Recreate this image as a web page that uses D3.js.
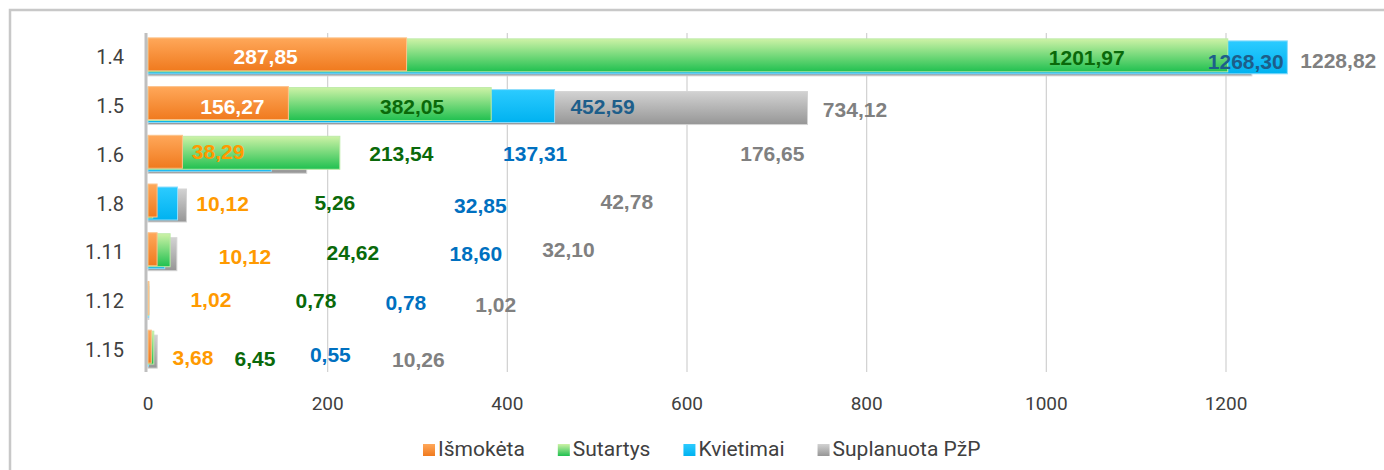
<!DOCTYPE html>
<html>
<head>
<meta charset="utf-8">
<script src="https://cdn.jsdelivr.net/npm/d3@7"></script>
<style>
  body { margin: 0; background: #fff; }
</style>
</head>
<body>
<div id="chart"></div>
<script>
// data
var categories = ['1.4', '1.5', '1.6', '1.8', '1.11', '1.12', '1.15'];
var seriesNames = ['Išmokėta', 'Sutartys', 'Kvietimai', 'Suplanuota PžP'];
var ismoketa = [287.85, 156.27, 38.29, 10.12, 10.12, 1.02, 3.68];
var sutartys = [1201.97, 382.05, 213.54, 5.26, 24.62, 0.78, 6.45];
var kvietimai = [1268.30, 452.59, 137.31, 32.85, 18.60, 0.78, 0.55];
var suplanuota = [1228.82, 734.12, 176.65, 42.78, 32.10, 1.02, 10.26];
var xTicks = [0, 200, 400, 600, 800, 1000, 1200];

// where the (hand placed) data labels sit, in axis units
var labelAtIsm = [131, 94, 78, 83, 108, 70, 50];
var labelAtSut = [1045, 294, 282, 208, 228, 187, 119];
var labelAtKv = [1222, 506, 431, 370, 365, 287, 203];
var labelAtSup = [1325, 787, 695, 533, 468, 387, 301];
var labelDyIsm = [-1, 1, -3, 0, 4, -1, 8];
var labelDySut = [0, 1, -1, -1, 0, 0, 9];
var labelDyKv = [4, 1, -1, 2, 1, 2, 5];
var labelDySup = [3, 4, -1, -2, -3, 4, 10];

var chart_width = 1384;
var chart_height = 470;

var series = [
  { name: seriesNames[0], values: ismoketa, at: labelAtIsm, dy: labelDyIsm, grad: 'g-orange', off: 0, label: '#FF9A00', stroke: '#FCC38C' },
  { name: seriesNames[1], values: sutartys, at: labelAtSut, dy: labelDySut, grad: 'g-green', off: 1, label: '#0A690A', stroke: '#BDEBA8' },
  { name: seriesNames[2], values: kvietimai, at: labelAtKv, dy: labelDyKv, grad: 'g-blue', off: 3, label: '#0070C0', stroke: '#8FDDFB' },
  { name: seriesNames[3], values: suplanuota, at: labelAtSup, dy: labelDySup, grad: 'g-gray', off: 5, label: '#808080', stroke: '#D4D4D4' }
];

var svg = d3.select('#chart')
  .append('svg')
  .attr('width', chart_width)
  .attr('height', chart_height);

// gradients
var defs = svg.append('defs');
var grads = [
  ['g-orange', '#FFA85A', '#F07A1E'],
  ['g-green', '#CDF2A6', '#20C050'],
  ['g-blue', '#2CCBFF', '#00B2F0'],
  ['g-gray', '#D2D2D2', '#969696']
];
grads.forEach(function(g) {
  var lg = defs.append('linearGradient')
    .attr('id', g[0])
    .attr('x1', 0).attr('y1', 0).attr('x2', 0).attr('y2', 1);
  lg.append('stop').attr('offset', '0%').attr('stop-color', g[1]);
  lg.append('stop').attr('offset', '100%').attr('stop-color', g[2]);
});

// outer frame
svg.append('rect')
  .attr('x', 10).attr('y', 10)
  .attr('width', chart_width + 20).attr('height', chart_height + 20)
  .attr('fill', 'none')
  .attr('stroke', '#C8C8C8')
  .attr('stroke-width', 2.5);

var x = d3.scaleLinear()
  .domain([0, 1300])
  .range([148, 148 + 1078 / 1200 * 1300]);

var y = d3.scaleBand()
  .domain(categories)
  .range([33, 374])
  .paddingInner(0.2)
  .paddingOuter(0.1);

var barH = y.bandwidth() - 6;
var plotTop = 33, plotBottom = 372;

// grid
svg.append('g')
  .selectAll('line')
  .data(xTicks.slice(1))
  .enter()
  .append('line')
  .attr('x1', d => x(d)).attr('x2', d => x(d))
  .attr('y1', plotTop).attr('y2', plotBottom)
  .attr('stroke', '#D0D0D0')
  .attr('stroke-width', 1.2);

// tick labels
svg.append('g')
  .selectAll('text')
  .data(xTicks)
  .enter()
  .append('text')
  .attr('x', d => x(d))
  .attr('y', 403)
  .attr('dy', '0.35em')
  .attr('text-anchor', 'middle')
  .style('font-family', 'Roboto, sans-serif')
  .style('font-size', '19px')
  .attr('fill', '#404040')
  .text(d => d);

// bars, back to front
var bars = svg.append('g');
series.slice().reverse().forEach(function(s) {
  bars.append('g')
    .selectAll('rect')
    .data(categories)
    .enter()
    .append('rect')
    .attr('x', x(0))
    .attr('y', (d) => y(d) + s.off)
    .attr('width', (d, i) => Math.max(0, x(s.values[i]) - x(0)))
    .attr('height', barH)
    .attr('fill', 'url(#' + s.grad + ')')
    .attr('stroke', s.stroke)
    .attr('stroke-width', 1);
});

// y axis line
svg.append('line')
  .attr('x1', 146).attr('x2', 146)
  .attr('y1', plotTop).attr('y2', plotBottom)
  .attr('stroke', '#BFBFBF')
  .attr('stroke-width', 3);

// category labels
svg.append('g')
  .selectAll('text')
  .data(categories)
  .enter()
  .append('text')
  .attr('x', 124)
  .attr('y', d => y(d) + y.bandwidth() / 2)
  .attr('dy', '0.35em')
  .attr('text-anchor', 'end')
  .style('font-family', 'Roboto, sans-serif')
  .style('font-size', '20px')
  .attr('fill', '#404040')
  .text(d => d);

// data labels
var fmt = d3.format('.2f');
series.forEach(function(s, si) {
  svg.append('g')
    .selectAll('text')
    .data(categories)
    .enter()
    .append('text')
    .attr('x', (d, i) => x(s.at[i]))
    .attr('y', (d, i) => y(d) + y.bandwidth() / 2 + s.dy[i])
    .attr('dy', '0.35em')
    .attr('text-anchor', 'middle')
    .style('font-family', '"Liberation Sans", Arial, sans-serif')
    .style('font-weight', 'bold')
    .style('font-size', '21px')
    .attr('fill', function(d, i) {
      // labels that sit on the two long bars
      if (i < 2 && si == 0) return '#FFFFFF';
      if (i < 2 && si == 2) return '#1D5E8A';
      return s.label;
    })
    .text((d, i) => fmt(s.values[i]).replace('.', ','));
});

// legend
var legend = svg.append('g');
var lx = 423;
series.forEach(function(s) {
  legend.append('rect')
    .attr('x', lx).attr('y', 444)
    .attr('width', 12).attr('height', 12)
    .attr('fill', 'url(#' + s.grad + ')');
  var t = legend.append('text')
    .attr('x', lx + 15)
    .attr('y', 449)
    .attr('dy', '0.35em')
    .style('font-family', 'Roboto, sans-serif')
    .style('font-size', '21px')
    .attr('fill', '#404040')
    .text(s.name);
  lx = lx + 15 + t.node().getComputedTextLength() + 33;
});
</script>
</body>
</html>
